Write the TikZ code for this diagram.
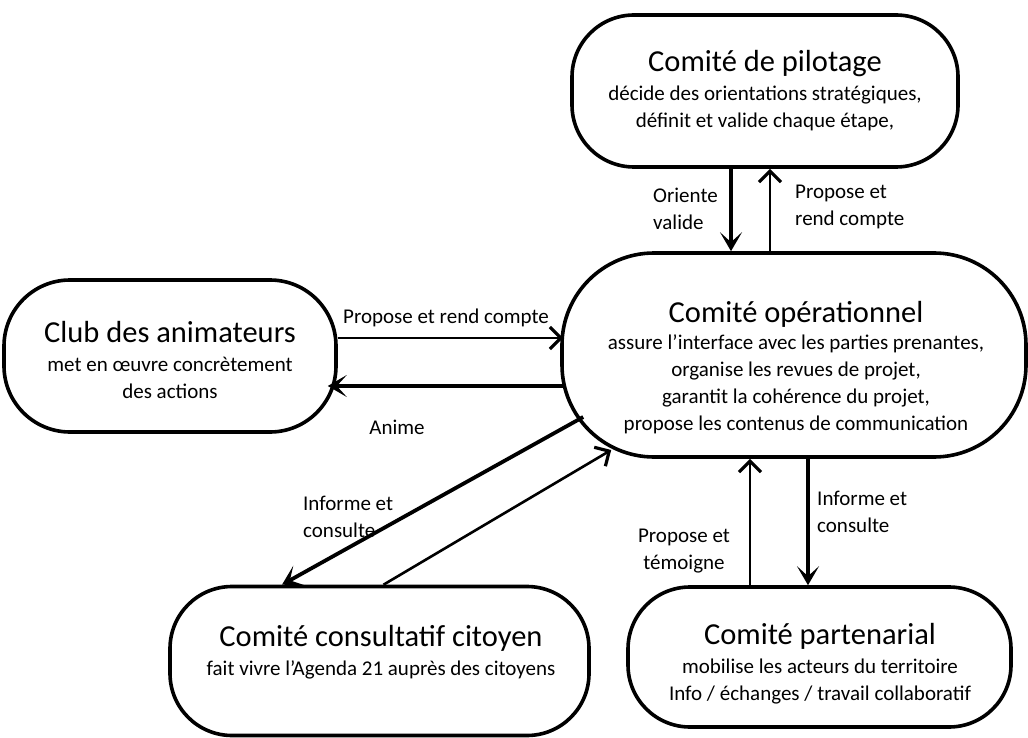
\documentclass[tikz,border=0pt]{standalone}
\usepackage{fontspec}
\setmainfont{Carlito}
\usetikzlibrary{arrows.meta,calc}
\newcommand\boxtitle[1]{{\fontsize{30.5}{34}\selectfont #1}}
\begin{document}
\begin{tikzpicture}[x=1pt,y=-1pt,
  box/.style={draw=black, line width=3.6pt, rounded corners=#1, inner sep=0pt},
  txt/.style={align=center, font=\fontsize{21}{27}\selectfont, inner sep=0pt},
  lbl/.style={font=\fontsize{21}{27}\selectfont, inner sep=0pt},
  thickarrow/.style={line width=3.8pt, -{Stealth[length=19pt,width=22pt,inset=10pt]}},
  thinarrow/.style={line width=2.6pt, -{Straight Barb[length=11pt,width=22pt,line width=3.2pt]}}
]
\useasboundingbox (0,0) rectangle (1028,738);
\fill[white] (0,0) rectangle (1028,738);

% boxes
\node[box=62, minimum width=386pt, minimum height=152pt] (pilot) at (765,91) {};
\node[box=92, minimum width=464pt, minimum height=204pt] (op) at (794,355) {};
\node[box=66, minimum width=332pt, minimum height=152pt] (club) at (170,356) {};
\node[box=62, minimum width=419pt, minimum height=149pt] (cons) at (379.5,661) {};
\node[box=62, minimum width=383pt, minimum height=140pt] (part) at (819.5,657) {};

% texts
\node[txt] (pilotT) at (765,91) {\boxtitle{Comité de pilotage}\\[2pt]
  décide des orientations stratégiques,\\ définit et valide chaque étape,};
\node[txt] (opT) at (796,368) {\boxtitle{Comité opérationnel}\\[0pt]
  assure l’interface avec les parties prenantes,\\ organise les revues de projet,\\
  garantit la cohérence du projet,\\ propose les contenus de communication};
\node[txt] (clubT) at (170,360) {\boxtitle{Club des animateurs}\\[2pt]
  met en œuvre concrètement\\ des actions};
\node[txt] (consT) at (381,652) {\boxtitle{Comité consultatif citoyen}\\[2pt]
  fait vivre l’Agenda 21 auprès des citoyens};
\node[txt] (partT) at (820,664) {\boxtitle{Comité partenarial}\\[2pt]
  mobilise les acteurs du territoire\\ Info / échanges / travail collaboratif};

% anchor points on the borders
\coordinate (pd) at ($(pilot.south)+(-34,0)$);
\coordinate (pu) at ($(pilot.south)+(5,0)$);
\coordinate (pdu) at ($(part.north)+(-69.5,0)$);
\coordinate (pdd) at ($(part.north)+(-11.5,0)$);

% connectors pilot <-> op
\draw[thickarrow] (pd) -- (pd |- op.north);
\draw[thinarrow] (pu |- op.north) -- (pu);
\node[lbl, align=left, anchor=west] (lOV) at (653,209) {Oriente\\valide};
\node[lbl, align=left, anchor=west] (lPR) at (795,207) {Propose et\\rend compte};

% club <-> op
\draw[thinarrow] ($(club.east)+(0,-18)$) -- ($(op.west)+(3,-17)$);
\draw[thickarrow] ($(op.west)+(3,31)$) -- ($(club.east)+(-10,30)$);
\node[lbl] (lPRC) at (446,318) {Propose et rend compte};
\node[lbl] (lAn) at (397,427) {Anime};

% op <-> cons
\draw[thickarrow] ($(op.west)+(23,62)$) -- ($(cons.north)+(-97.5,0)$);
\draw[thinarrow] ($(cons.north)+(4,0)$) -- ($(op.west)+(51,95)$);
\node[lbl, align=left, anchor=west] (lIC1) at (303,517) {Informe et\\consulte};

% op <-> part
\draw[thinarrow] (pdu) -- (pdu |- op.south);
\draw[thickarrow] (pdd |- op.south) -- (pdd);
\node[lbl, align=center] (lPT) at (684,551) {Propose et\\témoigne};
\node[lbl, align=left, anchor=west] (lIC2) at (817,512) {Informe et\\consulte};
\end{tikzpicture}
\end{document}
